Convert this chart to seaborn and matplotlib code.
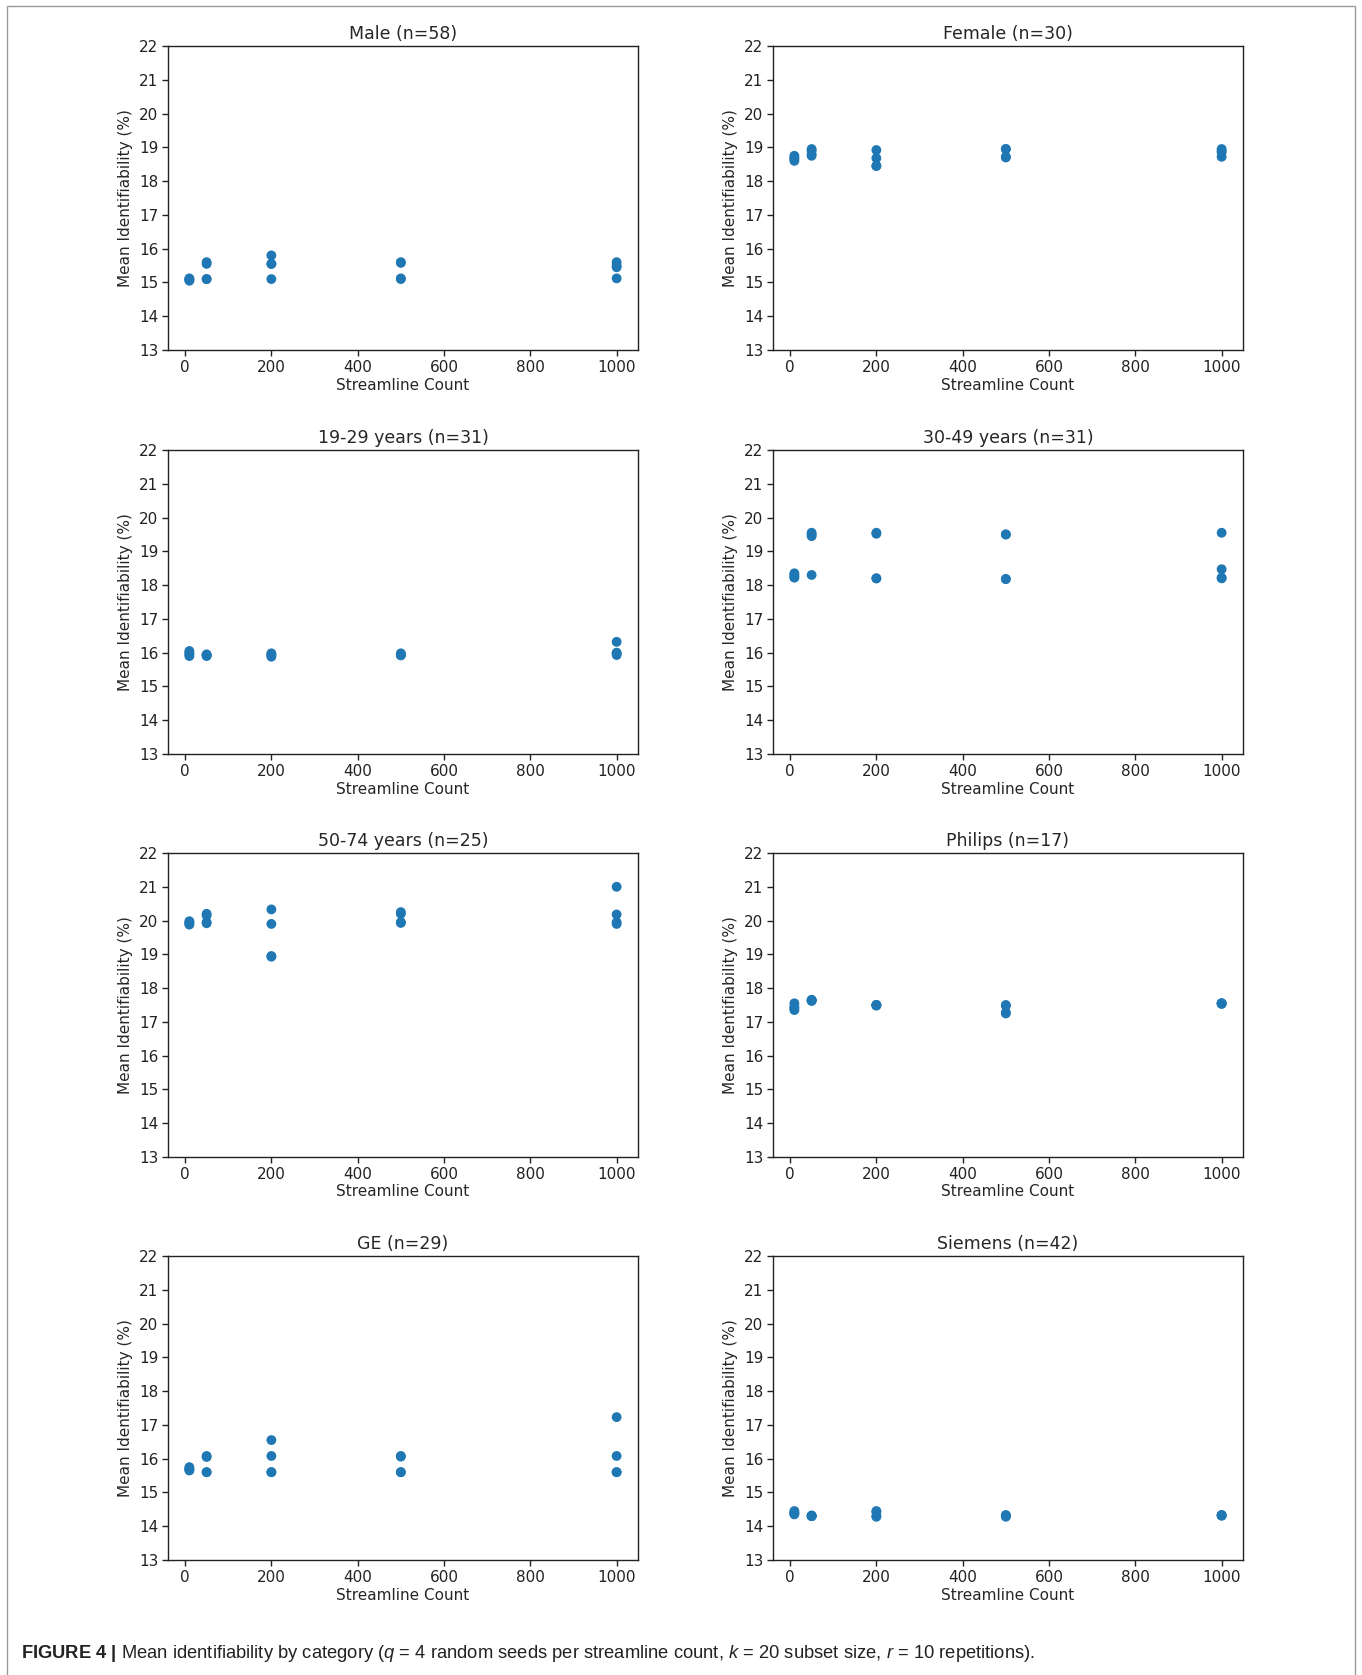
import numpy as np
import pandas as pd
import matplotlib
matplotlib.use("Agg")
import matplotlib.pyplot as plt
from matplotlib.patches import Rectangle
import seaborn as sns

# ---------------- data ----------------
streamline_counts = [10, 50, 200, 500, 1000]

panel_titles = ["Male (n=58)", "Female (n=30)", "19-29 years (n=31)", "30-49 years (n=31)",
                "50-74 years (n=25)", "Philips (n=17)", "GE (n=29)", "Siemens (n=42)"]

# four random seeds per streamline count (rows follow streamline_counts)
male = [[15.05, 15.10, 15.08, 15.12],
        [15.60, 15.55, 15.10, 15.10],
        [15.80, 15.55, 15.55, 15.10],
        [15.60, 15.58, 15.12, 15.10],
        [15.60, 15.45, 15.50, 15.12]]
female = [[18.60, 18.70, 18.75, 18.65],
          [18.95, 18.90, 18.75, 18.80],
          [18.92, 18.68, 18.45, 18.45],
          [18.95, 18.72, 18.70, 18.95],
          [18.95, 18.85, 18.72, 18.90]]
age_19_29 = [[16.05, 15.95, 15.90, 16.00],
             [15.95, 15.90, 15.92, 15.93],
             [15.98, 15.88, 15.92, 15.95],
             [15.98, 15.92, 15.95, 15.93],
             [16.32, 15.98, 15.93, 16.00]]
age_30_49 = [[18.35, 18.22, 18.30, 18.25],
             [19.55, 19.45, 19.50, 18.30],
             [19.55, 19.52, 18.20, 18.20],
             [19.50, 19.50, 18.18, 18.18],
             [19.55, 18.47, 18.20, 18.22]]
age_50_74 = [[19.98, 19.90, 19.95, 19.88],
             [20.20, 20.15, 19.95, 19.92],
             [20.33, 19.90, 18.93, 18.95],
             [20.25, 20.20, 19.93, 19.95],
             [21.00, 20.18, 19.95, 19.90]]
philips = [[17.55, 17.45, 17.35, 17.40],
           [17.65, 17.63, 17.65, 17.62],
           [17.50, 17.48, 17.50, 17.50],
           [17.50, 17.48, 17.28, 17.25],
           [17.55, 17.53, 17.55, 17.55]]
ge = [[15.75, 15.65, 15.70, 15.68],
      [16.05, 16.08, 15.60, 15.60],
      [16.55, 16.08, 15.60, 15.60],
      [16.08, 16.06, 15.60, 15.60],
      [17.23, 16.08, 15.60, 15.60]]
siemens = [[14.45, 14.35, 14.40, 14.38],
           [14.30, 14.32, 14.30, 14.30],
           [14.45, 14.30, 14.28, 14.42],
           [14.30, 14.32, 14.28, 14.33],
           [14.33, 14.32, 14.31, 14.33]]

panel_values = [male, female, age_19_29, age_30_49, age_50_74, philips, ge, siemens]

caption = (r"$\mathbf{FIGURE\ 4\ |}$ Mean identifiability by category ($\mathit{q}$ = 4 random seeds per "
           r"streamline count, $\mathit{k}$ = 20 subset size, $\mathit{r}$ = 10 repetitions).")

# ---------------- style ----------------
sns.set_style("ticks")
plt.rcParams["font.family"] = ["DejaVu Sans"]
plt.rcParams["axes.edgecolor"] = "#222222"
plt.rcParams["xtick.color"] = "#222222"
plt.rcParams["ytick.color"] = "#222222"
plt.rcParams["mathtext.fontset"] = "custom"
plt.rcParams["mathtext.rm"] = "Liberation Sans"
plt.rcParams["mathtext.it"] = "Liberation Sans:italic"
plt.rcParams["mathtext.bf"] = "Liberation Sans:bold"

W, H = 1362, 1675
fig = plt.figure(figsize=(W / 100, H / 100), dpi=100)
fig.patch.set_facecolor("white")

col_left = [168, 773]
row_top = [46, 450, 853, 1256]
ax_w, ax_h = 470, 304
dot_color = "#1f77b4"

for i, (title, vals) in enumerate(zip(panel_titles, panel_values)):
    r, c = divmod(i, 2)
    left = col_left[c] / W
    bottom = 1 - (row_top[r] + ax_h) / H
    ax = fig.add_axes([left, bottom, ax_w / W, ax_h / H])
    df = pd.DataFrame({
        "Streamline Count": np.repeat(streamline_counts, 4),
        "Mean Identifiability (%)": np.array(vals).ravel(),
    })
    sns.scatterplot(data=df, x="Streamline Count", y="Mean Identifiability (%)",
                    ax=ax, color=dot_color, s=50, linewidth=0, edgecolor="none")
    ax.set_ylim(13, 22)
    ax.set_yticks(range(13, 23))
    ax.set_xticks(range(0, 1001, 200))
    ax.set_xlim(-39.5, 1049.5)
    ax.set_title(title, fontsize=12.5, pad=5)
    ax.set_xlabel("Streamline Count", fontsize=11, labelpad=2)
    ax.set_ylabel("Mean Identifiability (%)", fontsize=11, labelpad=4)
    ax.tick_params(axis="both", labelsize=11, length=4, width=1, direction="out", pad=3)
    for sp in ax.spines.values():
        sp.set_visible(True)
        sp.set_linewidth(1.0)
        sp.set_color("#222222")

# outer frame
fig.add_artist(Rectangle((7 / W, -0.01), (1355 - 7) / W, 1 - 6 / H + 0.01,
                         transform=fig.transFigure, fill=False,
                         edgecolor="#9a9a9a", linewidth=1.0))

fig.text(21 / W, 1 - 1654 / H, caption, fontsize=13.2, va="center", ha="left",
         family=["Liberation Sans", "DejaVu Sans"], color="#222222")

fig.savefig("out.png", dpi=100, facecolor="white")
